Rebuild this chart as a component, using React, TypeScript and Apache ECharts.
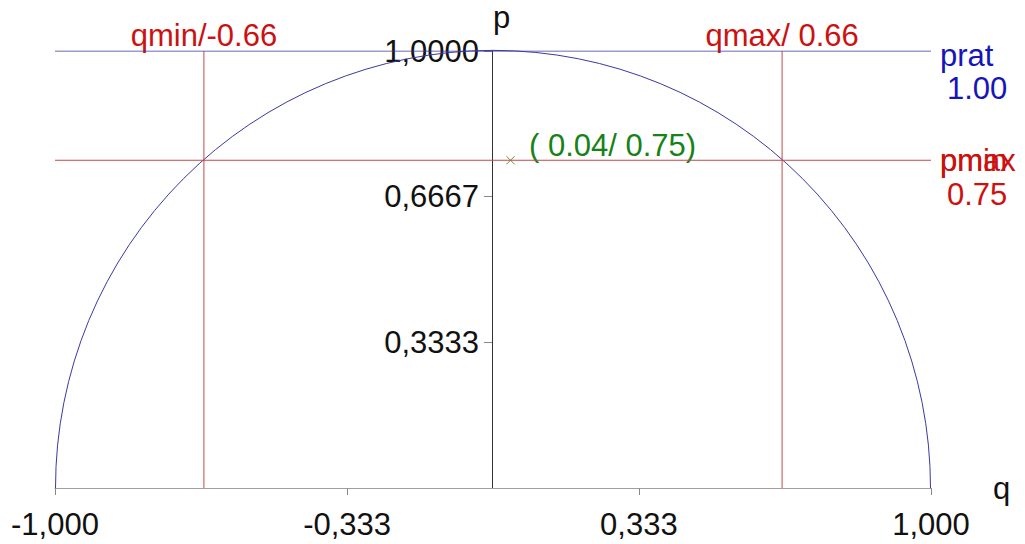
import React, { useEffect, useRef } from "react";
import * as echarts from "echarts";

const qRange = [-1, 1];
const pRange = [0, 1];
const xTicks = [-1, -0.333, 0.333, 1];
const xTickLabels = ["-1,000", "-0,333", "0,333", "1,000"];
const yTicks = [0.3333, 0.6667, 1.0];
const yTickLabels = ["0,3333", "0,6667", "1,0000"];
const circleCenter = [0, 0];
const circleRadius = [1];
const qmin = -0.66;
const qmax = 0.66;
const prat = 1.0;
const pmin = 0.75;
const pmax = 0.75;
const point = [0.04, 0.75];

const FONT = "'Liberation Sans', Arial, sans-serif";
const FS = 31;
const RED = "#cc1111";
const BLUE = "#1515b8";
const GREEN = "#178217";
const LINE_RED = "#c04848";
const LINE_BLUE = "#3a3aa0";

export default function App() {
  const ref = useRef<HTMLDivElement>(null);
  useEffect(() => {
    if (!ref.current) return;
    const chart = echarts.init(ref.current, undefined, { renderer: "svg" });
    const textLabel = (text: string, color: string, extra: any) => ({
      show: true,
      formatter: text,
      color,
      opacity: 1,
      fontSize: FS,
      fontFamily: FONT,
      ...extra,
    });
    const fmt = (v: number, labels: string[], ticks: number[]) => {
      const i = ticks.findIndex((t) => Math.abs(t - v) < 1e-6);
      return i >= 0 ? labels[i] : "";
    };
    chart.setOption({
      animation: false,
      backgroundColor: "#fff",
      grid: { left: 55, top: 51, width: 876, height: 437, containLabel: false, outerBoundsMode: "none" },
      xAxis: {
        type: "value",
        min: qRange[0],
        max: qRange[1],
        name: "q",
        nameLocation: "end",
        nameGap: 62,
        nameTextStyle: { fontSize: FS, fontFamily: FONT, color: "#111", verticalAlign: "middle" },
        splitLine: { show: false },
        axisLine: { show: true, onZero: false, lineStyle: { color: "#a0a0a0", width: 1 } },
        axisTick: { show: true, customValues: xTicks, length: 7, lineStyle: { color: "#888" } },
        axisLabel: {
          show: true,
          customValues: xTicks,
          formatter: (v: number) => fmt(v, xTickLabels, xTicks),
          fontSize: FS,
          fontFamily: FONT,
          color: "#111",
          margin: 21,
        },
      },
      yAxis: {
        type: "value",
        min: pRange[0],
        max: pRange[1],
        position: "left",
        offset: -437,
        name: "p",
        nameLocation: "end",
        nameGap: 18,
        nameTextStyle: { fontSize: FS, fontFamily: FONT, color: "#111", align: "left", padding: [0, 0, 0, 1] },
        splitLine: { show: false },
        axisLine: { show: true, onZero: false, lineStyle: { color: "#333", width: 1 } },
        axisTick: { show: true, customValues: yTicks, length: 8, lineStyle: { color: "#888" } },
        axisLabel: {
          show: true,
          customValues: yTicks,
          formatter: (v: number) => fmt(v, yTickLabels, yTicks),
          fontSize: FS,
          fontFamily: FONT,
          color: "#111",
          margin: 13,
        },
      },
      series: [
        {
          type: "custom",
          clip: false,
          silent: true,
          data: [[circleCenter[0], circleCenter[1], circleRadius[0]]],
          renderItem: (params: any, api: any) => {
            const c = api.coord([api.value(0), api.value(1)]);
            const s = api.size([api.value(2), api.value(2)]);
            const r = (s[0] + s[1]) / 2;
            return {
              type: "arc",
              shape: { cx: c[0], cy: c[1], r, startAngle: Math.PI, endAngle: 2 * Math.PI, clockwise: true },
              style: { stroke: LINE_BLUE, fill: "none", lineWidth: 1 },
            };
          },
        },
        {
          type: "line",
          data: [[qRange[0], prat], [qRange[1], prat]],
          symbol: "none",
          lineStyle: { color: LINE_BLUE, width: 1 },
          silent: true,
        },
        {
          type: "line",
          data: [[qRange[0], pmin], [qRange[1], pmin]],
          symbol: "none",
          lineStyle: { color: LINE_RED, width: 1 },
          silent: true,
        },
        {
          type: "line",
          data: [[qmin, pRange[0]], [qmin, prat]],
          symbol: "none",
          lineStyle: { color: LINE_RED, width: 1 },
          silent: true,
        },
        {
          type: "line",
          data: [[qmax, pRange[0]], [qmax, prat]],
          symbol: "none",
          lineStyle: { color: LINE_RED, width: 1 },
          silent: true,
        },
        {
          type: "scatter",
          symbol: "path://M0,0L10,10M10,0L0,10",
          symbolSize: 8,
          itemStyle: { color: "none", borderColor: "#6f8f2f", borderWidth: 1, opacity: 1 },
          data: [point],
          label: textLabel(`( ${point[0].toFixed(2)}/ ${point[1].toFixed(2)})`, GREEN, {
            position: "right",
            distance: 12,
            offset: [0, -15],
          }),
          silent: true,
        },
        {
          type: "scatter",
          symbolSize: 0,
          silent: true,
          clip: false,
          itemStyle: { opacity: 1 },
          data: [
            {
              value: [qmin, prat],
              label: textLabel(`qmin/${qmin.toFixed(2)}`, RED, { position: "top", distance: 0 }),
            },
            {
              value: [qmax, prat],
              label: textLabel(`qmax/ ${qmax.toFixed(2)}`, RED, { position: "top", distance: 0 }),
            },
            {
              value: [qRange[1], prat],
              label: textLabel("prat", BLUE, { position: "right", distance: 9, offset: [0, 4] }),
            },
            {
              value: [qRange[1], prat],
              label: textLabel(prat.toFixed(2), BLUE, { position: "right", distance: 16, offset: [0, 37] }),
            },
            {
              value: [qRange[1], pmin],
              label: textLabel("pmin", RED, { position: "right", distance: 9, offset: [0, 0] }),
            },
            {
              value: [qRange[1], pmax],
              label: textLabel("pmax", RED, { position: "right", distance: 9, offset: [0, 0] }),
            },
            {
              value: [qRange[1], pmin],
              label: textLabel(pmin.toFixed(2), RED, { position: "right", distance: 16, offset: [0, 34] }),
            },
          ],
        },
      ],
    });
    return () => chart.dispose();
  }, []);
  return <div ref={ref} style={{ position: "fixed", left: 0, top: 0, width: 1025, height: 544 }} />;
}
